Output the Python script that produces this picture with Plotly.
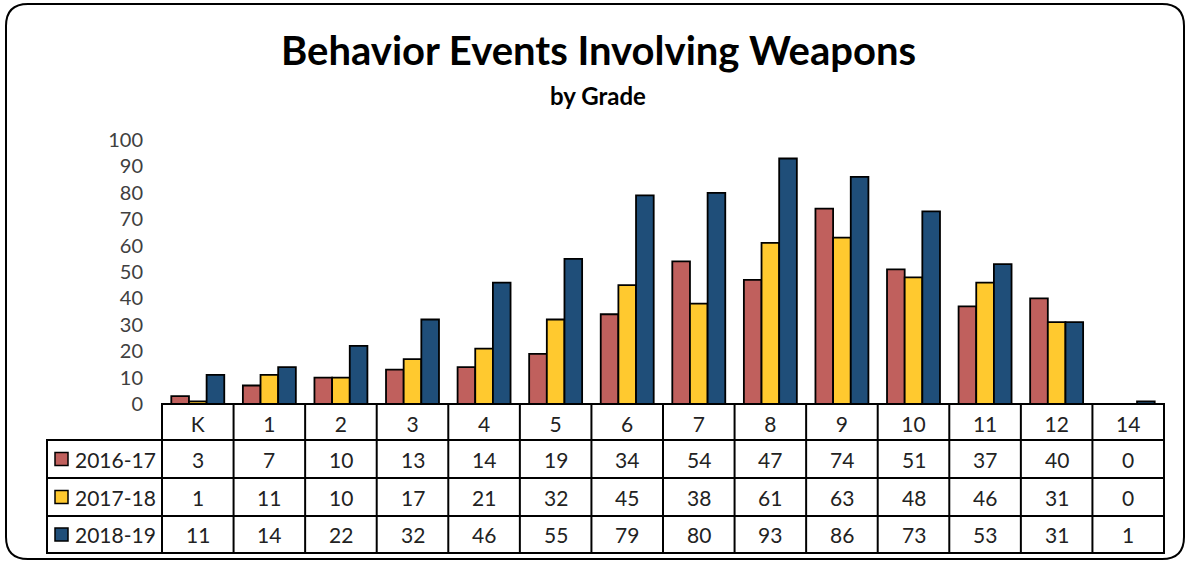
import plotly.graph_objects as go

# data
GRADES = ["K", "1", "2", "3", "4", "5", "6", "7", "8", "9", "10", "11", "12", "14"]
YEARS = ["2016-17", "2017-18", "2018-19"]
Y2016 = [3, 7, 10, 13, 14, 19, 34, 54, 47, 74, 51, 37, 40, 0]
Y2017 = [1, 11, 10, 17, 21, 32, 45, 38, 61, 63, 48, 46, 31, 0]
Y2018 = [11, 14, 22, 32, 46, 55, 79, 80, 93, 86, 73, 53, 31, 1]
COLORS = ["#c0605d", "#ffc92f", "#1f4e79"]

W, H = 1186, 563
ML, MR, MT, MB = 162, 22, 140, 159
PW, PH = W - ML - MR, H - MT - MB
FONT = "Lato, Carlito, sans-serif"


def px_x(p):
    # figure pixel -> paper x
    return (p - ML) / PW


def px_y(p):
    # figure pixel -> paper y
    return (H - MB - p) / PH


fig = go.Figure()
for name, vals, col in zip(YEARS, [Y2016, Y2017, Y2018], COLORS):
    fig.add_trace(go.Bar(x=GRADES, y=vals, name=name,
                         marker=dict(color=col, line=dict(color="black", width=1.8))))

# table geometry (pixels)
base = H - MB
row_edges = [base, base + 36, base + 74, base + 112, base + 149]
leg_left = 47

shapes = []
line = dict(color="black", width=2)
# outer box of grade/value columns
shapes.append(dict(type="rect", xref="paper", yref="paper", x0=0, x1=1,
                   y0=0, y1=px_y(row_edges[-1]), line=line))
# legend column box
shapes.append(dict(type="rect", xref="paper", yref="paper", x0=px_x(leg_left), x1=0,
                   y0=px_y(row_edges[1]), y1=px_y(row_edges[-1]), line=line))
# row lines
for r in row_edges[1:-1]:
    shapes.append(dict(type="line", xref="paper", yref="paper", x0=px_x(leg_left), x1=1,
                       y0=px_y(r), y1=px_y(r), line=line))
# column lines between grades
for i in range(1, len(GRADES)):
    shapes.append(dict(type="line", xref="x", yref="paper", x0=i - 0.5, x1=i - 0.5,
                       y0=0, y1=px_y(row_edges[-1]), line=line))

annotations = []
tfont = dict(family=FONT, size=21, color="#222222")
for k, (name, vals, col) in enumerate(zip(YEARS, [Y2016, Y2017, Y2018], COLORS)):
    yc = (row_edges[k + 1] + row_edges[k + 2]) / 2
    # legend key square
    shapes.append(dict(type="rect", xref="paper", yref="paper",
                       x0=px_x(55), x1=px_x(68), y0=px_y(yc - 6.5), y1=px_y(yc + 6.5),
                       fillcolor=col, line=dict(color="black", width=1.5)))
    annotations.append(dict(text=name, xref="paper", yref="paper", x=px_x(73), y=px_y(yc),
                            xanchor="left", yanchor="middle", showarrow=False, font=tfont))
    for i, v in enumerate(vals):
        # category index so numeric-looking grade names are not read as positions
        annotations.append(dict(text=str(v), xref="x", yref="paper", x=i, y=px_y(yc),
                                xanchor="center", yanchor="middle", showarrow=False, font=tfont))

# rounded frame around the whole chart
fx0, fx1, fy0, fy1, rad = 6, 1184, 4, 559, 22
xs = [px_x(v) for v in (fx0, fx0 + rad, fx1 - rad, fx1)]
ys = [px_y(v) for v in (fy0, fy0 + rad, fy1 - rad, fy1)]
path = (f"M {xs[1]},{ys[0]} L {xs[2]},{ys[0]} Q {xs[3]},{ys[0]} {xs[3]},{ys[1]} "
        f"L {xs[3]},{ys[2]} Q {xs[3]},{ys[3]} {xs[2]},{ys[3]} "
        f"L {xs[1]},{ys[3]} Q {xs[0]},{ys[3]} {xs[0]},{ys[2]} "
        f"L {xs[0]},{ys[1]} Q {xs[0]},{ys[0]} {xs[1]},{ys[0]} Z")
shapes.append(dict(type="path", xref="paper", yref="paper", path=path,
                   line=dict(color="black", width=2)))

annotations.append(dict(text="<b>Behavior Events Involving Weapons</b>", xref="paper", yref="paper",
                        x=px_x(598), y=px_y(50), xanchor="center", yanchor="middle",
                        showarrow=False, font=dict(family=FONT, size=40, color="black")))
annotations.append(dict(text="<b>by Grade</b>", xref="paper", yref="paper",
                        x=px_x(598), y=px_y(96), xanchor="center", yanchor="middle",
                        showarrow=False, font=dict(family=FONT, size=24, color="black")))

fig.update_layout(
    width=W, height=H,
    margin=dict(l=ML, r=MR, t=MT, b=MB),
    paper_bgcolor="white", plot_bgcolor="white",
    barmode="group", bargap=0.26, bargroupgap=0,
    showlegend=False,
    shapes=shapes, annotations=annotations,
    xaxis=dict(type="category", showgrid=False, showline=False, ticks="",
               tickfont=tfont, ticklabelstandoff=6, fixedrange=True),
    yaxis=dict(range=[0, 100], dtick=10, showgrid=False, showline=False, zeroline=False,
               ticks="", tickfont=dict(family=FONT, size=20, color="#404040"),
               ticklabelstandoff=18, fixedrange=True),
)

# drop the default page margin so the chart sits at the window's corner
fig.write_html("out.html", config={"displayModeBar": False},
               post_script="document.body.style.margin='0';")
